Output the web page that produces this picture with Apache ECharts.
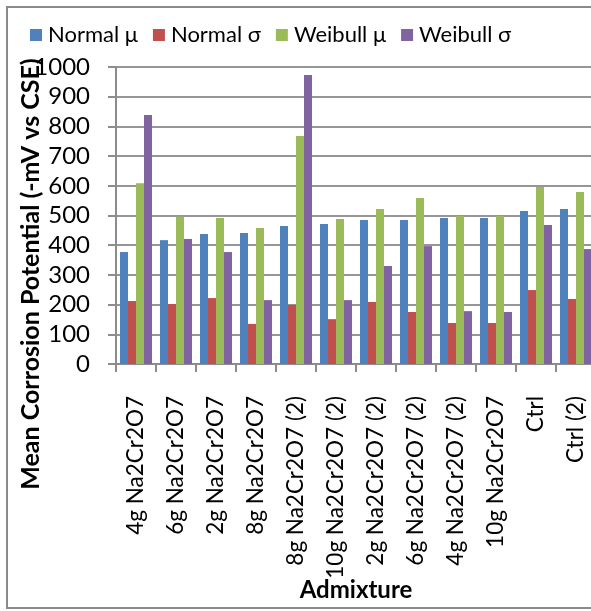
<!DOCTYPE html>
<html>
<head>
<meta charset="utf-8">
<script src="https://cdn.jsdelivr.net/npm/echarts@6/dist/echarts.min.js"></script>
<style>
html,body{margin:0;padding:0;overflow:hidden;background:#fff;}
#c{width:600px;height:611px;}
</style>
</head>
<body>
<div id="c"></div>
<script>
var categories = ["4g Na2Cr2O7","6g Na2Cr2O7","2g Na2Cr2O7","8g Na2Cr2O7","8g Na2Cr2O7 (2)","10g Na2Cr2O7 (2)","2g Na2Cr2O7 (2)","6g Na2Cr2O7 (2)","4g Na2Cr2O7 (2)","10g Na2Cr2O7","Ctrl","Ctrl (2)"];
var normalMu    = [377, 417, 438, 441, 465, 471, 485, 485, 492, 492, 515, 522];
var normalSigma = [212, 202, 222, 135, 199, 151, 209, 175, 138, 138, 249, 219];
var weibullMu   = [609, 496, 492, 458, 768, 488, 522, 559, 498, 498, 596, 579];
var weibullSigma= [838, 421, 377, 215, 973, 215, 330, 397, 178, 175, 468, 387];
var seriesNames = ["Normal μ","Normal σ","Weibull μ","Weibull σ"];
var yTicks = {min:0, max:1000, interval:100};

var colors = ['#4F81BD','#C0504D','#9BBB59','#8064A2'];
var font = 'Lato, "Open Sans", sans-serif';
var chart = echarts.init(document.getElementById('c'));
var dataSets = [normalMu, normalSigma, weibullMu, weibullSigma];
chart.setOption({
  animation:false,
  color:colors,
  textStyle:{fontFamily:font},
  legend:{
    data:seriesNames, left:25, top:19, itemWidth:12, itemHeight:12, itemGap:15,
    icon:'rect',
    textStyle:{fontFamily:font, fontSize:22, color:'#000', padding:[0,0,0,1]}
  },
  grid:{left:116, right:4, top:67, bottom:247, containLabel:false, outerBoundsMode:'none'},
  xAxis:{
    type:'category', data:categories,
    name:'Admixture', nameLocation:'middle', nameGap:214, nameMoveOverlap:false,
    nameTextStyle:{fontFamily:font, fontSize:24, fontWeight:'bold', color:'#000'},
    axisLine:{lineStyle:{color:'#8c8c8c', width:2}},
    axisTick:{show:true, length:8, lineStyle:{color:'#8c8c8c', width:2}},
    axisLabel:{rotate:90, margin:32, interval:0, fontFamily:font, fontSize:22.5, color:'#000'}
  },
  yAxis:{
    type:'value', min:yTicks.min, max:yTicks.max, interval:yTicks.interval,
    axisLine:{show:true, lineStyle:{color:'#8c8c8c', width:2}},
    axisTick:{show:true, length:8, lineStyle:{color:'#8c8c8c', width:2}},
    splitLine:{lineStyle:{color:'#969696', width:2}},
    axisLabel:{margin:26, fontFamily:font, fontSize:24, color:'#000', formatter:function(v){return String(v);}}
  },
  graphic:[
    {type:'rect', shape:{x:7, y:7, width:620, height:601}, style:{fill:'none', stroke:'#8a8a8a', lineWidth:2}, z:-1},
    {type:'text', x:31, y:274, rotation:Math.PI/2,
     style:{text:'Mean Corrosion Potential (-mV vs CSE)', font:'bold 25px ' + font, fill:'#000', textAlign:'center', textVerticalAlign:'middle'}}
  ],
  series: seriesNames.map(function(n,i){
    return {name:n, type:'bar', data:dataSets[i], barGap:'0%', barCategoryGap:'20%'};
  })
});
</script>
</body>
</html>
